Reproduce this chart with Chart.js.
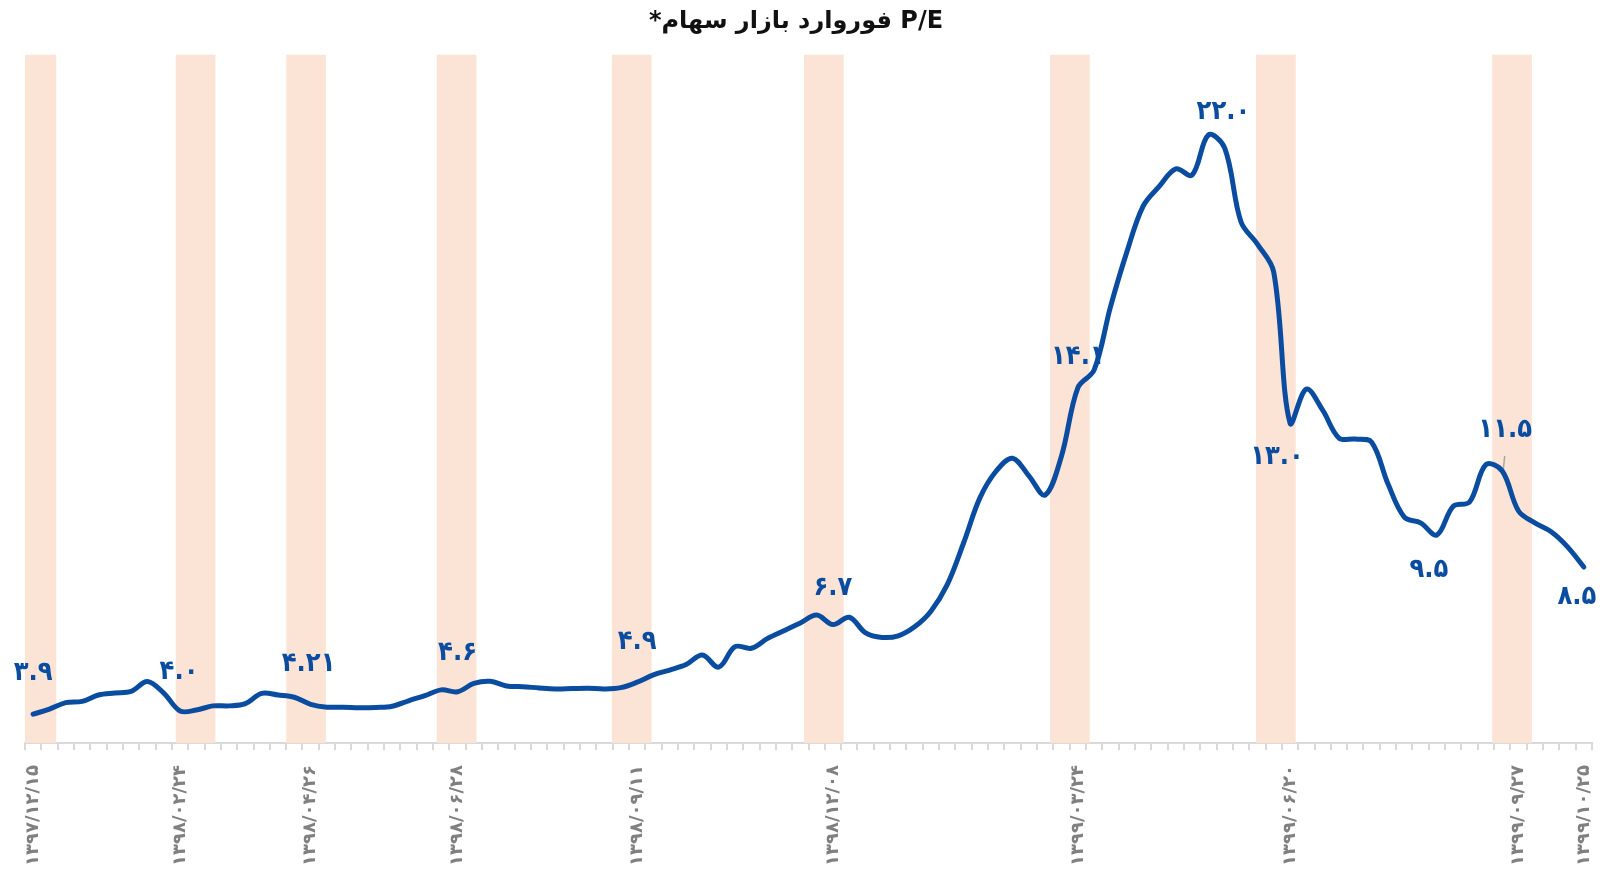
<!DOCTYPE html>
<html lang="fa">
<head>
<meta charset="utf-8">
<title>P/E فوروارد بازار سهام</title>
<script src="https://cdn.jsdelivr.net/npm/chart.js@4.4.1/dist/chart.umd.min.js"></script>
<style>
  html, body { margin: 0; padding: 0; background: #ffffff; }
  #wrap { width: 1616px; height: 871px; }
</style>
</head>
<body>
<div id="wrap"><canvas id="pe" width="1616" height="871"></canvas></div>
<script>
// Weekly forward P/E of the Tehran stock market
const tickDates = [
  '۱۳۹۷/۱۲/۱۵', '۱۳۹۸/۰۲/۲۴', '۱۳۹۸/۰۴/۲۶', '۱۳۹۸/۰۶/۲۸', '۱۳۹۸/۰۹/۱۱',
  '۱۳۹۸/۱۲/۰۸', '۱۳۹۹/۰۳/۲۴', '۱۳۹۹/۰۶/۲۰', '۱۳۹۹/۰۹/۲۷', '۱۳۹۹/۱۰/۲۵'
];
// category index at which each dated tick label sits
const tickIndex = [0, 9, 17, 26, 37, 49, 64, 77, 91, 95];

const peValues = [
  3.9, 4.06, 4.26, 4.3, 4.5, 4.56, 4.61, 4.92, 4.56, 4.0,
  4.03, 4.16, 4.16, 4.23, 4.55, 4.5, 4.43, 4.21, 4.12, 4.12,
  4.1, 4.11, 4.15, 4.32, 4.48, 4.66, 4.6, 4.86, 4.93, 4.78,
  4.76, 4.72, 4.69, 4.7, 4.71, 4.69, 4.73, 4.9, 5.13, 5.28,
  5.45, 5.75, 5.37, 6.01, 5.96, 6.27, 6.51, 6.75, 7.0, 6.7,
  6.93, 6.44, 6.3, 6.35, 6.63, 7.12, 7.95, 9.25, 10.66, 11.5,
  11.9, 11.35, 10.75, 11.97, 14.1, 14.66, 16.63, 18.34, 19.78, 20.4,
  20.94, 20.75, 22.0, 21.59, 19.28, 18.59, 17.72, 13.0, 14.06, 13.4,
  12.53, 12.5, 12.4, 11.1, 10.06, 9.88, 9.5, 10.4, 10.53, 11.7,
  11.5, 10.25, 9.88, 9.6, 9.13, 8.5
];

// points whose value is written next to the line
const labelledIndex = [0, 9, 17, 26, 37, 49, 64, 72, 77, 86, 90, 95];

// highlighted periods, centred on these category positions
const bandCentres = [0.2, 9.95, 16.72, 25.94, 36.67, 48.44, 63.51, 76.13, 90.6];
const bandTop = 24.5;

const categories = peValues.map((_, i) => {
  const k = tickIndex.indexOf(i);
  return k >= 0 ? tickDates[k] : '';
});

const faDigits = s => String(s).replace(/[0-9]/g, d => '۰۱۲۳۴۵۶۷۸۹'[d]);
const valueText = v => {
  const dec = Math.max(1, (String(v).split('.')[1] || '').length);
  return faDigits(v.toFixed(dec));
};

// Value labels, drawn above the shaded bands and beneath the line
const pointLabels = {
  id: 'pointLabels',
  afterDatasetDraw(chart, args, opts) {
    if (args.index !== 1) return;
    const ctx = chart.ctx;
    const xs = chart.scales.x, ys = chart.scales.y;
    ctx.save();
    ctx.font = opts.font;
    ctx.fillStyle = opts.color;
    ctx.textAlign = 'center';
    ctx.textBaseline = 'middle';
    labelledIndex.forEach(i => {
      const px = xs.getPixelForValue(i);
      const py = ys.getPixelForValue(peValues[i]);
      const [dx, dy] = opts.placement[i] || [0, -38];
      const lead = opts.leaders[i];
      if (lead) {
        ctx.save();
        ctx.strokeStyle = opts.leaderColor;
        ctx.lineWidth = 1.5;
        ctx.beginPath();
        ctx.moveTo(px + lead[0][0], py + lead[0][1]);
        ctx.lineTo(px + lead[1][0], py + lead[1][1]);
        ctx.stroke();
        ctx.restore();
      }
      ctx.fillText(valueText(peValues[i]), px + dx, py + dy);
    });
    ctx.restore();
  }
};

new Chart(document.getElementById('pe'), {
  type: 'line',
  data: {
    labels: categories,
    datasets: [
      {
        type: 'line',
        label: 'P/E',
        data: peValues,
        xAxisID: 'x',
        yAxisID: 'y',
        borderColor: '#0A4CA0',
        borderWidth: 5,
        tension: 0.35,
        pointRadius: 0,
        borderCapStyle: 'round',
        borderJoinStyle: 'round',
        fill: false,
        clip: false,
        order: 0
      },
      {
        type: 'bar',
        label: 'bands',
        data: bandCentres.map(c => ({ x: c, y: bandTop })),
        xAxisID: 'xb',
        yAxisID: 'y',
        backgroundColor: '#FBE4D5',
        borderWidth: 0,
        barThickness: 39,
        grouped: false,
        clip: 0,
        order: 1
      }
    ]
  },
  options: {
    responsive: false,
    animation: false,
    events: [],
    layout: { padding: { left: 25, right: 24, top: 0, bottom: 0 } },
    scales: {
      x: {
        type: 'category',
        axis: 'x',
        offset: true,
        grid: {
          offset: true,
          drawOnChartArea: false,
          drawTicks: true,
          tickLength: 7,
          color: '#d9d9d9',
          lineWidth: 2
        },
        border: { display: true, color: '#d9d9d9', width: 2 },
        ticks: {
          autoSkip: false,
          minRotation: 90,
          maxRotation: 90,
          padding: 15,
          labelOffset: 0,
          color: '#808080',
          font: { family: 'DejaVu Sans', size: 18, weight: 'bold' }
        },
        afterFit(scale) {
          scale.height = 128;
          scale.paddingLeft = 0;
          scale.paddingRight = 0;
        }
      },
      xb: {
        type: 'linear',
        axis: 'x',
        display: false,
        min: -0.5,
        max: 95.5,
        offset: false,
        grid: { offset: false }
      },
      y: {
        type: 'linear',
        display: false,
        min: 3,
        max: 25
      }
    },
    plugins: {
      legend: { display: false },
      tooltip: { enabled: false },
      title: {
        display: true,
        text: '\u2067\u00A0\u00A0\u00A0P/E فوروارد بازار سهام*\u2069',
        color: '#111111',
        font: { family: 'DejaVu Sans', size: 24, weight: 'bold', lineHeight: 1.2 },
        padding: { top: 7, bottom: 3.2 }
      },
      pointLabels: {
        font: 'bold 27px "DejaVu Sans Condensed", "DejaVu Sans"',
        color: '#0A4CA0',
        leaderColor: '#a6a6a6',
        placement: {
          0: [0, -41], 9: [-1, -39], 17: [-2, -40], 26: [0, -39], 37: [0, -40],
          49: [0, -37], 64: [0, -31], 72: [15, -23], 77: [-13, 34], 86: [-8, 35],
          90: [3, -41], 95: [-7, 30]
        },
        leaders: { 90: [[2.5, -15], [0.5, 4]] }
      }
    }
  },
  plugins: [pointLabels]
});
</script>
</body>
</html>
